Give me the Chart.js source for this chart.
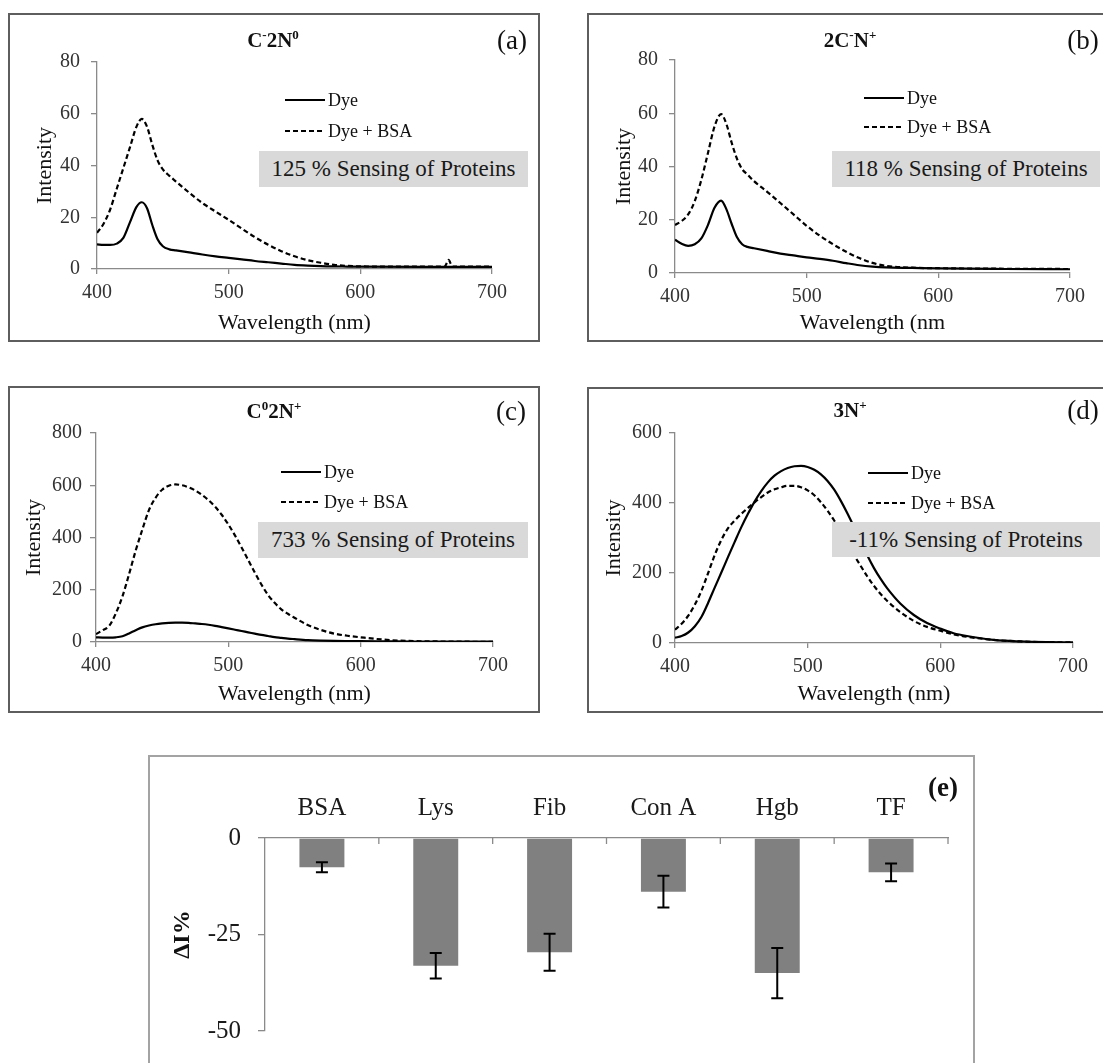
<!DOCTYPE html>
<html>
<head>
<meta charset="UTF-8">
<title>Dye emission spectra and protein sensing</title>
<script src="https://cdn.jsdelivr.net/npm/chart.js@4.4.0/dist/chart.umd.min.js"></script>
<style>
  html, body { margin: 0; padding: 0; background: #fff; overflow: hidden; }
  body { position: relative; width: 1103px; height: 1063px; font-family: 'Liberation Serif', 'Times New Roman', serif; color: #111; }
  .box { position: absolute; box-sizing: border-box; border: 2px solid #5e5e5e; }
  .box.e { border-color: #a3a3a3; }
  canvas { position: absolute; }
  .lbl { position: absolute; white-space: nowrap; transform: translate(-50%, -50%); line-height: 1; }
  .ttl { font-weight: bold; font-size: 21px; }
  .ttl sup { font-size: 0.62em; vertical-align: 0.6em; line-height: 0; }
  .tag { font-size: 27px; }
  .tag.bold { font-weight: bold; }
  .key { position: absolute; font-size: 18px; line-height: 1; white-space: nowrap; transform: translateY(-50%); display: flex; align-items: center; }
  .key svg { display: block; margin-right: 3px; }
  .note { position: absolute; background: #d9d9d9; font-size: 23px; display: flex; align-items: center; justify-content: center; white-space: nowrap; color: #1a1a1a; }
</style>
</head>
<body>

<div class="box" style="left:8px;top:13px;width:532px;height:329px"></div>
<div class="box" style="left:587px;top:13px;width:532px;height:329px"></div>
<div class="box" style="left:8px;top:386px;width:532px;height:327px"></div>
<div class="box" style="left:587px;top:387px;width:532px;height:326px"></div>
<div class="box e" style="left:148px;top:755px;width:827px;height:330px"></div>

<canvas id="chartA"></canvas>
<canvas id="chartB"></canvas>
<canvas id="chartC"></canvas>
<canvas id="chartD"></canvas>
<canvas id="chartE"></canvas>

<!-- (a) -->
<div class="lbl ttl" style="left:273px;top:40px">C<sup>-</sup>2N<sup>0</sup></div>
<div class="lbl tag" style="left:512px;top:40px">(a)</div>
<div class="key" style="left:285px;top:100px"><svg width="40" height="4"><line x1="0" y1="2" x2="40" y2="2" stroke="#000" stroke-width="2.2"/></svg>Dye</div>
<div class="key" style="left:285px;top:131px"><svg width="40" height="4"><line x1="0" y1="2" x2="40" y2="2" stroke="#000" stroke-width="2.2" stroke-dasharray="5 3"/></svg>Dye + BSA</div>
<div class="note" style="left:259px;top:151px;width:269px;height:36px">125 % Sensing of Proteins</div>

<!-- (b) -->
<div class="lbl ttl" style="left:850px;top:40px">2C<sup>-</sup>N<sup>+</sup></div>
<div class="lbl tag" style="left:1083px;top:40px">(b)</div>
<div class="key" style="left:864px;top:98px"><svg width="40" height="4"><line x1="0" y1="2" x2="40" y2="2" stroke="#000" stroke-width="2.2"/></svg>Dye</div>
<div class="key" style="left:864px;top:127px"><svg width="40" height="4"><line x1="0" y1="2" x2="40" y2="2" stroke="#000" stroke-width="2.2" stroke-dasharray="5 3"/></svg>Dye + BSA</div>
<div class="note" style="left:832px;top:151px;width:268px;height:36px">118 % Sensing of Proteins</div>

<!-- (c) -->
<div class="lbl ttl" style="left:274px;top:411px">C<sup>0</sup>2N<sup>+</sup></div>
<div class="lbl tag" style="left:511px;top:411px">(c)</div>
<div class="key" style="left:281px;top:472px"><svg width="40" height="4"><line x1="0" y1="2" x2="40" y2="2" stroke="#000" stroke-width="2.2"/></svg>Dye</div>
<div class="key" style="left:281px;top:502px"><svg width="40" height="4"><line x1="0" y1="2" x2="40" y2="2" stroke="#000" stroke-width="2.2" stroke-dasharray="5 3"/></svg>Dye + BSA</div>
<div class="note" style="left:258px;top:522px;width:270px;height:36px">733 % Sensing of Proteins</div>

<!-- (d) -->
<div class="lbl ttl" style="left:850px;top:410px">3N<sup>+</sup></div>
<div class="lbl tag" style="left:1083px;top:410px">(d)</div>
<div class="key" style="left:868px;top:473px"><svg width="40" height="4"><line x1="0" y1="2" x2="40" y2="2" stroke="#000" stroke-width="2.2"/></svg>Dye</div>
<div class="key" style="left:868px;top:503px"><svg width="40" height="4"><line x1="0" y1="2" x2="40" y2="2" stroke="#000" stroke-width="2.2" stroke-dasharray="5 3"/></svg>Dye + BSA</div>
<div class="note" style="left:832px;top:522px;width:268px;height:35px">-11% Sensing of Proteins</div>

<!-- (e) -->
<div class="lbl tag bold" style="left:943px;top:787px">(e)</div>

<script>
const FONT = "'Liberation Serif', 'Times New Roman', serif";
const AXIS = '#8a8a8a';

// (a) C-2N0
const waveA = [400,405,410,415,420,425,430,434,438,442,446,450,455,460,470,480,490,500,510,520,530,540,550,560,570,580,590,600,650,664,667,670,700];
const dyeA = [9.5,9.3,9.3,9.8,12,18,24,25.8,23.5,17,11.5,8.8,7.6,7.2,6.4,5.6,4.9,4.3,3.7,3.1,2.6,2.1,1.6,1.3,1.1,1.0,0.95,0.9,0.8,0.8,0.8,0.8,0.8];
const dyeBsaA = [14,17.5,23,31,39,47,55,58,55,48,42,38.5,36,33.8,29.5,25.5,22.2,19,15.6,12.3,9.4,6.9,4.9,3.4,2.4,1.6,1.2,1.0,0.9,0.9,3.5,0.9,0.9];

// (b) 2C-N+
const waveB = [400,405,410,415,420,425,430,435,439,443,447,451,455,460,470,480,490,500,510,520,530,540,550,560,580,600,650,700];
const dyeB = [12.5,11,10.2,10.8,13,18,24.5,27.2,24,18.5,13.5,10.8,9.8,9.3,8.3,7.3,6.6,5.9,5.3,4.6,3.7,2.9,2.4,2.1,1.9,1.7,1.5,1.4];
const dyeBsaB = [18,19.5,22,27,35,45,55,59.7,56,49,43,39,37,34.5,30.5,26.3,22,17.7,14,10.8,8,5.6,3.8,2.7,2,1.8,1.6,1.5];

// (c) C02N+
const waveC = [400,405,410,415,420,425,430,435,440,445,450,455,460,465,470,475,480,485,490,495,500,505,510,515,520,525,530,535,540,545,550,560,570,580,590,600,620,640,660,700];
const dyeC = [18,17,17,18,22,33,45,56,63,68,71,73,74,74,73,71,69,66,62,57,52,47,42,37,32,27,23,19,16,13,11,7.5,5.5,4.2,3.5,3,2.5,2,2,1.5];
const dyeBsaC = [30,45,62,110,175,260,350,430,505,552,583,598,603,600,592,580,563,543,518,487,450,408,362,314,266,220,180,150,125,108,93,65,46,32,24,18,8,3.5,2,0.5];

// (d) 3N+
const waveD = [400,405,410,415,420,425,430,435,440,445,450,455,460,465,470,475,480,485,490,495,500,505,510,515,520,525,530,535,540,545,550,555,560,570,580,590,600,610,620,640,660,680,700];
const dyeD = [15,20,30,48,75,115,159,202,246,289,331,369,404,434,459,478,491,500,505,506,503,495,482,463,438,406,370,331,290,250,214,183,156,112,80,57,41,28,20,9,4.5,2.5,2];
const dyeBsaD = [38,55,78,110,150,200,252,295,328,350,369,386,402,417,430,439,445,449,449,445,436,422,402,378,350,318,284,251,220,190,163,140,120,88,63,46,35,25,18,9,4.5,2.5,2];

// (e) change in intensity per protein
const proteins = ['BSA', 'Lys', 'Fib', 'Con A', 'Hgb', 'TF'];
const deltaI = [-7.6, -33.1, -29.6, -13.9, -35.0, -8.9];
const deltaIErr = [1.3, 3.3, 4.8, 4.1, 6.5, 2.3];

function pts(wave, vals) {
  return wave.map((w, i) => ({ x: w, y: vals[i] }));
}

function spectrum(id, g, wave, dye, dyeBsa) {
  const cv = document.getElementById(id);
  const left = g.box[0] + 2, top = g.box[1] + 2, w = g.box[2] - 4, h = g.box[3] - 4;
  cv.style.left = left + 'px';
  cv.style.top = top + 'px';
  cv.width = w;
  cv.height = h;
  const line = { borderColor: '#000', borderWidth: 2.2, pointRadius: 0, cubicInterpolationMode: 'monotone', fill: false };
  return new Chart(cv, {
    type: 'line',
    data: {
      datasets: [
        Object.assign({ label: 'Dye', data: pts(wave, dye) }, line),
        Object.assign({ label: 'Dye + BSA', data: pts(wave, dyeBsa), borderDash: [5, 3] }, line)
      ]
    },
    options: {
      responsive: false,
      animation: false,
      devicePixelRatio: 1,
      layout: { padding: { left: 0, top: g.area.t - top, right: left + w - g.area.r, bottom: 0 } },
      plugins: { legend: { display: false }, tooltip: { enabled: false } },
      scales: {
        x: {
          type: 'linear', min: 400, max: 700,
          ticks: { stepSize: 100, color: '#333', font: { family: FONT, size: 20 }, padding: 7, maxRotation: 0 },
          grid: { drawOnChartArea: false, tickLength: 5, color: AXIS, lineWidth: 1.3 },
          border: { color: AXIS, width: 1.3 },
          title: { display: true, text: g.xTitle, color: '#111', font: { family: FONT, size: 22 }, padding: { top: 0, bottom: 3.5 } },
          afterFit: s => { s.height = top + h - g.area.b; }
        },
        y: {
          min: 0, max: g.yMax,
          ticks: { stepSize: g.yStep, color: '#333', font: { family: FONT, size: 20 }, padding: g.tickPad },
          grid: { drawOnChartArea: false, tickLength: 6, color: AXIS, lineWidth: 1.3 },
          border: { color: AXIS, width: 1.3 },
          title: { display: true, text: 'Intensity', color: '#111', font: { family: FONT, size: 22 }, padding: { top: g.titlePad, bottom: 0 } },
          afterFit: s => { s.width = g.area.l - left; }
        }
      }
    }
  });
}

spectrum('chartA', { box: [8, 13, 532, 329], area: { l: 97, r: 492, t: 62, b: 269 }, yMax: 80, yStep: 20, tickPad: 11, titlePad: 21.8, xTitle: 'Wavelength (nm)' }, waveA, dyeA, dyeBsaA);
spectrum('chartB', { box: [587, 13, 532, 329], area: { l: 675, r: 1070, t: 60, b: 273 }, yMax: 80, yStep: 20, tickPad: 11, titlePad: 21.8, xTitle: 'Wavelength (nm' }, waveB, dyeB, dyeBsaB);
spectrum('chartC', { box: [8, 386, 532, 327], area: { l: 96, r: 493, t: 433, b: 642 }, yMax: 800, yStep: 200, tickPad: 8, titlePad: 10.8, xTitle: 'Wavelength (nm)' }, waveC, dyeC, dyeBsaC);
spectrum('chartD', { box: [587, 387, 532, 326], area: { l: 675, r: 1073, t: 433, b: 643 }, yMax: 600, yStep: 200, tickPad: 7, titlePad: 11.8, xTitle: 'Wavelength (nm)' }, waveD, dyeD, dyeBsaD);

// I-shaped error bars on each bar end
const errorBars = {
  id: 'errorBars',
  afterDatasetsDraw(chart) {
    const { ctx, scales: { y } } = chart;
    const meta = chart.getDatasetMeta(0);
    ctx.save();
    ctx.strokeStyle = '#000';
    ctx.lineWidth = 2;
    meta.data.forEach((bar, i) => {
      const hi = y.getPixelForValue(deltaI[i] + deltaIErr[i]);
      const lo = y.getPixelForValue(deltaI[i] - deltaIErr[i]);
      ctx.beginPath();
      ctx.moveTo(bar.x, hi); ctx.lineTo(bar.x, lo);
      ctx.moveTo(bar.x - 6, hi); ctx.lineTo(bar.x + 6, hi);
      ctx.moveTo(bar.x - 6, lo); ctx.lineTo(bar.x + 6, lo);
      ctx.stroke();
    });
    ctx.restore();
  }
};

// small tick marks hanging under the top category axis, between categories
const innerTicks = {
  id: 'innerTicks',
  afterDraw(chart) {
    const { ctx, chartArea, scales: { x } } = chart;
    ctx.save();
    ctx.strokeStyle = AXIS;
    ctx.lineWidth = 1.3;
    for (let i = 0; i < proteins.length; i++) {
      const px = i < proteins.length - 1 ? (x.getPixelForValue(i) + x.getPixelForValue(i + 1)) / 2 : chartArea.right;
      ctx.beginPath();
      ctx.moveTo(px, chartArea.top);
      ctx.lineTo(px, chartArea.top + 6);
      ctx.stroke();
    }
    ctx.restore();
  }
};

const cvE = document.getElementById('chartE');
cvE.style.left = '150px';
cvE.style.top = '757px';
cvE.width = 823;
cvE.height = 306;
new Chart(cvE, {
  type: 'bar',
  data: {
    labels: proteins,
    datasets: [{ data: deltaI, backgroundColor: '#808080', barPercentage: 1, categoryPercentage: 0.395 }]
  },
  options: {
    responsive: false,
    animation: false,
    devicePixelRatio: 1,
    layout: { padding: { left: 0, top: 0, right: 25, bottom: 31 } },
    plugins: { legend: { display: false }, tooltip: { enabled: false } },
    scales: {
      x: {
        position: 'top',
        ticks: { color: '#1a1a1a', font: { family: FONT, size: 25 }, padding: 15 },
        grid: { display: false, drawTicks: false },
        border: { color: AXIS, width: 1.3 },
        afterFit: s => { s.height = 81; }
      },
      y: {
        min: -50, max: 0,
        ticks: { stepSize: 25, color: '#1a1a1a', font: { family: FONT, size: 25 }, padding: 17 },
        grid: { drawOnChartArea: false, tickLength: 7, color: AXIS, lineWidth: 1.3 },
        border: { color: AXIS, width: 1.3 },
        title: { display: true, text: 'ΔI%', color: '#111', font: { family: FONT, size: 24, weight: 'bold' }, padding: { top: 18.6, bottom: 0 } },
        afterFit: s => { s.width = 115; }
      }
    }
  },
  plugins: [errorBars, innerTicks]
});
</script>
</body>
</html>
